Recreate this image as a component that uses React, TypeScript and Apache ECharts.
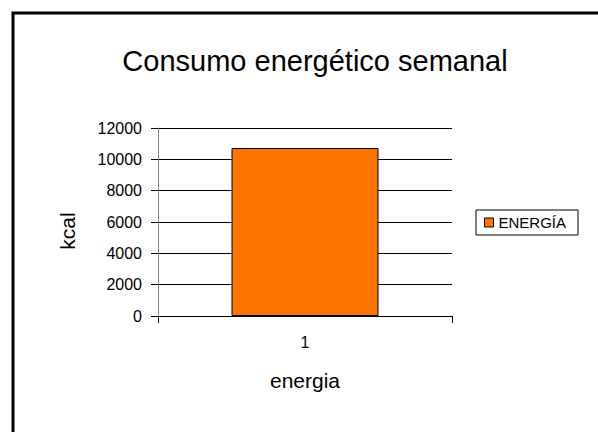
import React, { useEffect, useRef } from "react";
import * as echarts from "echarts";

const categories = ["1"];
const seriesName = "ENERGÍA";
const energyValues = [10720];
const yTicks = { min: 0, max: 12000, interval: 2000 };
const titleText = "Consumo energético semanal";
const yName = "kcal";
const xName = "energia";

const FONT = "'Liberation Sans', Arial, sans-serif";

export default function App() {
  const ref = useRef<HTMLDivElement>(null);
  useEffect(() => {
    if (!ref.current) return;
    const chart = echarts.init(ref.current, null, { renderer: "svg" });
    chart.setOption({
      animation: false,
      backgroundColor: "#ffffff",
      textStyle: { fontFamily: FONT },
      title: {
        text: titleText,
        left: 310,
        top: 41,
        textAlign: "center",
        textStyle: { fontSize: 29, fontWeight: "normal", color: "#000", fontFamily: FONT },
      },
      graphic: [
        {
          type: "rect",
          shape: { x: 13, y: 13, width: 700, height: 600 },
          style: { fill: "none", stroke: "#000", lineWidth: 3 },
          silent: true,
        },
        {
          type: "text",
          x: 67,
          y: 231,
          rotation: Math.PI / 2,
          style: {
            text: yName,
            fontSize: 21,
            fontFamily: FONT,
            fill: "#000",
            align: "center",
            verticalAlign: "middle",
            textAlign: "center",
            textVerticalAlign: "middle",
          },
        },
      ],
      legend: {
        data: [seriesName],
        left: 476,
        top: 210,
        orient: "vertical",
        padding: [5, 12, 5, 8],
        itemWidth: 9,
        itemHeight: 9,
        itemGap: 5,
        icon: "rect",
        borderColor: "#000",
        borderWidth: 1,
        backgroundColor: "#fff",
        textStyle: { fontSize: 15, color: "#000", fontFamily: FONT, padding: [0, 0, 0, 0] },
        itemStyle: { borderColor: "#000", borderWidth: 1 },
      },
      grid: { left: 158, right: 146, top: 128, bottom: 116, containLabel: false },
      xAxis: {
        type: "category",
        data: categories,
        name: xName,
        nameLocation: "middle",
        nameGap: 54,
        nameTextStyle: { fontSize: 21, color: "#000", fontFamily: FONT },
        axisLine: { show: true, lineStyle: { color: "#000", width: 1 } },
        axisTick: { show: true, length: 7, alignWithLabel: false, lineStyle: { color: "#000" } },
        axisLabel: { fontSize: 16, color: "#000", margin: 18, fontFamily: FONT },
        splitLine: { show: false },
      },
      yAxis: {
        type: "value",
        min: yTicks.min,
        max: yTicks.max,
        interval: yTicks.interval,
        axisLine: { show: true, lineStyle: { color: "#808080", width: 1 } },
        axisTick: { show: true, length: 7, inside: false, lineStyle: { color: "#000" } },
        axisLabel: {
          fontSize: 16,
          color: "#000",
          margin: 16,
          fontFamily: FONT,
          formatter: (v: number) => String(v),
        },
        splitLine: { show: true, lineStyle: { color: "#000", width: 1 } },
      },
      series: [
        {
          name: seriesName,
          type: "bar",
          data: energyValues,
          barWidth: "50%",
          itemStyle: { color: "#FF7300", borderColor: "#000", borderWidth: 1 },
        },
      ],
    });
    return () => chart.dispose();
  }, []);
  return (
    <div
      ref={ref}
      style={{ position: "fixed", left: 0, top: 0, width: 598, height: 432, background: "#fff" }}
    />
  );
}
